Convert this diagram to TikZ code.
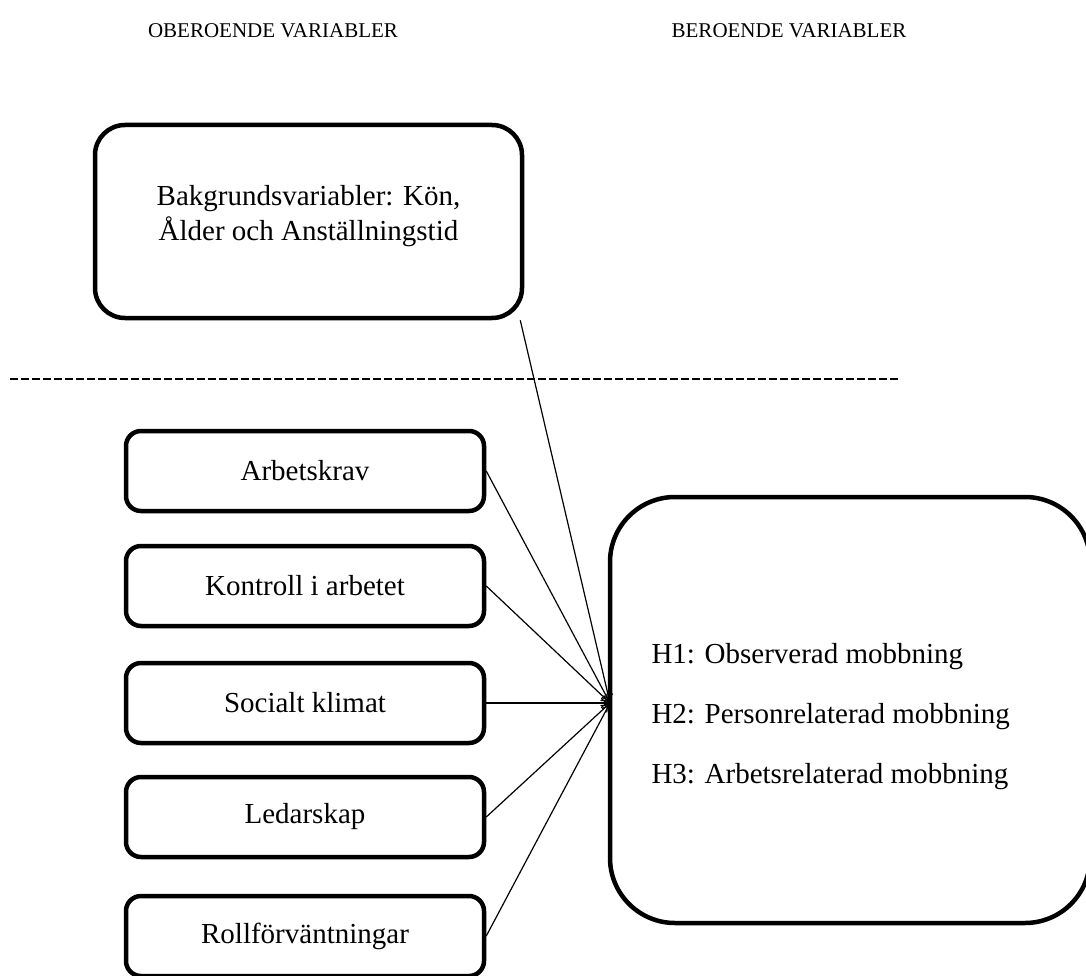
\documentclass[tikz,border=0pt]{standalone}
\usepackage{fontspec}
\setmainfont{Liberation Serif}
\usetikzlibrary{arrows.meta,calc}
\tikzstyle{varbox} = [rectangle, draw, line width=4.5pt, rounded corners=15pt, minimum width=358pt, minimum height=80pt, text centered]
\tikzstyle{bigbox} = [rectangle, draw, line width=4.5pt, text centered]
\tikzstyle{heading} = [font=\fontsize{21}{25}\selectfont]
\tikzstyle{pil} = [-{To[length=9pt,width=10pt]}, line width=1.2pt]

\begin{document}
\begin{tikzpicture}[x=1pt,y=-1pt,every node/.style={font=\fontsize{29}{35}\selectfont}]
            \useasboundingbox (0,0) rectangle (1086,976);
            % rubriker
            \node[heading] (oberoende) at (273,31) {OBEROENDE VARIABLER};
            \node[heading] (beroende) at (789,31) {BEROENDE VARIABLER};
            % bakgrund
            \node[bigbox,rounded corners=30pt,minimum width=427pt,minimum height=193pt] (bakgrund) at (308.5,221.5) {};
            \node[align=center] (bakgrundtext) at (308.5,216) {Bakgrundsvariabler: Kön,\\Ålder och Anställningstid};
            \draw[dashed,dash pattern=on 8pt off 3pt,line width=1.2pt] (10,379) coordinate (streck1) -- (898,379) coordinate (streck2);
            % oberoende
            \node[varbox] (krav) at (305,471) {Arbetskrav};
            \node[varbox] (kontroll) at (305,586) {Kontroll i arbetet};
            \node[varbox] (klimat) at (305,703) {Socialt klimat};
            \node[varbox] (ledarskap) at (305,817) {Ledarskap};
            \node[varbox] (roll) at (305,936) {Rollförväntningar};
            % beroende
            \node[bigbox,rounded corners=65pt,minimum width=480pt,minimum height=426pt] (utfall) at (850,710) {};
            \node[anchor=west] (h1) at (648,657) {H1: Observerad mobbning};
            \node[anchor=west] (h2) at (648,717) {H2: Personrelaterad mobbning};
            \node[anchor=west] (h3) at (648,777) {H3: Arbetsrelaterad mobbning};
            \coordinate (mal) at (610,703);
            \draw[pil] ($(bakgrund.south east)+(-4,0)$) -- (mal);
            \draw[pil] (krav.east) -- (mal);
            \draw[pil] (kontroll.east) -- (mal);
            \draw[pil] (klimat.east) -- (mal);
            \draw[pil] (ledarskap.east) -- (mal);
            \draw[pil] (roll.east) -- (mal);
        \end{tikzpicture}
\end{document}
